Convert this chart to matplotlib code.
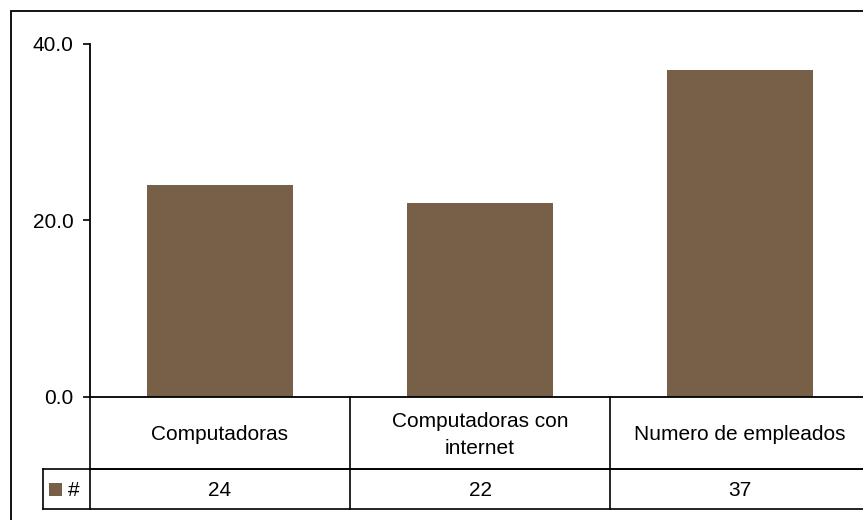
import matplotlib
matplotlib.use("Agg")
import matplotlib.pyplot as plt
from matplotlib.patches import Rectangle
from matplotlib.transforms import blended_transform_factory

plt.rcParams['font.family'] = ['Liberation Sans', 'DejaVu Sans']

categories = ["Computadoras", "Computadoras con\ninternet", "Numero de empleados"]
values = [24, 22, 37]
series_name = "#"
yticks = [0, 20, 40]
bar_color = "#786048"

W, H = 863, 520
fig = plt.figure(figsize=(W / 100, H / 100), dpi=100)

# plot area in pixel units
left_px, right_px, top_px, bottom_px = 90, 870, 44, 397
ax = fig.add_axes([left_px / W, 1 - bottom_px / H,
                   (right_px - left_px) / W, (bottom_px - top_px) / H])

x = list(range(len(categories)))
ax.bar(x, values, width=0.56, color=bar_color, zorder=2)
ax.set_xlim(-0.5, len(categories) - 0.5)
ax.set_ylim(0, 40)
ax.set_yticks(yticks)
ax.set_yticklabels([f"{v:.1f}" for v in yticks], fontsize=15)
ax.tick_params(axis='y', direction='out', length=5, width=1.2, pad=7)
ax.set_xticks([])
for s in ['top', 'right']:
    ax.spines[s].set_visible(False)
ax.spines['left'].set_linewidth(1.3)
ax.spines['bottom'].set_linewidth(1.3)

# data table under the bars
tr = blended_transform_factory(ax.transData, ax.transAxes)
axh_px = bottom_px - top_px
col_w_px = (right_px - left_px) / len(categories)
row1 = -(469 - bottom_px) / axh_px
row2 = -(509 - bottom_px) / axh_px
leg_left = -0.5 - 47 / col_w_px
x_right = len(categories) - 0.5
lw = 1.2
kw = dict(color='black', lw=lw, transform=tr, clip_on=False)

ax.plot([-0.5, x_right], [row1, row1], **kw)
ax.plot([leg_left, x_right], [row1, row1], **kw)
ax.plot([leg_left, x_right], [row2, row2], **kw)
ax.plot([leg_left, leg_left], [row1, row2], **kw)
for b in [i - 0.5 for i in range(len(categories) + 1)]:
    ax.plot([b, b], [0, row2], **kw)

for xi, cat, v in zip(x, categories, values):
    ax.text(xi, row1 / 2 - 2 / axh_px, cat, transform=tr, ha='center',
            va='center', fontsize=15, linespacing=1.5)
    ax.text(xi, (row1 + row2) / 2 - 1.5 / axh_px, f"{v}", transform=tr,
            ha='center', va='center', fontsize=15)

# legend key inside the table
ax.add_patch(Rectangle((-0.5 - 41 / col_w_px, (row1 + row2) / 2 - 7.5 / axh_px),
                       13 / col_w_px, 13 / axh_px, transform=tr,
                       facecolor=bar_color, edgecolor='none', clip_on=False))
ax.text(-0.5 - 16 / col_w_px, (row1 + row2) / 2 - 2 / axh_px, series_name,
        transform=tr, ha='center', va='center', fontsize=15)

# chart border
fig.add_artist(Rectangle((11 / W, -0.1), 1.2, 1 - 11 / H + 0.1,
                         transform=fig.transFigure, fill=False,
                         edgecolor='black', lw=1.3))

fig.savefig("out.png", dpi=100)
